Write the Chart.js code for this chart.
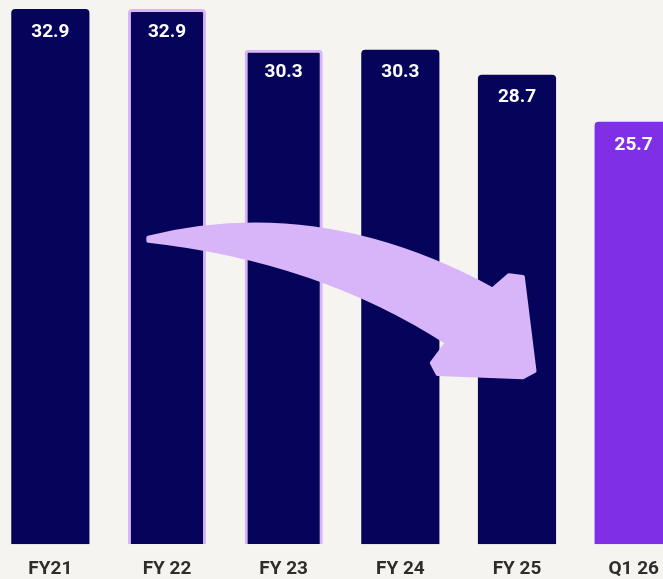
<!DOCTYPE html>
<html>
<head>
<meta charset="utf-8">
<script src="https://cdn.jsdelivr.net/npm/chart.js@4/dist/chart.umd.min.js"></script>
<style>
  html, body { margin: 0; padding: 0; background: #f5f4f0; overflow: hidden; }
  #wrap { position: absolute; left: -8px; top: 0; width: 700px; height: 595px; }
</style>
</head>
<body>
<div id="wrap"><canvas id="chart"></canvas></div>
<script>
const categories = ['FY21', 'FY 22', 'FY 23', 'FY 24', 'FY 25', 'Q1 26'];
const values = [32.9, 32.9, 30.3, 30.3, 28.7, 25.7];
const labels = ['32.9', '32.9', '30.3', '30.3', '28.7', '25.7'];

const NAVY = '#05045a';
const PURPLE = '#7f2fe6';
const LILAC = '#d8b4f8';

const barColors = [NAVY, NAVY, NAVY, NAVY, NAVY, PURPLE];
const borderColors = [NAVY, LILAC, LILAC, NAVY, NAVY, PURPLE];
const borderWidths = [0, 3, 3, 0, 0, 0];

const Y_MIN = -1.26;

// white value text near the top of each bar
const valueLabels = {
  id: 'valueLabels',
  afterDatasetsDraw(chart) {
    const ctx = chart.ctx;
    const meta = chart.getDatasetMeta(0);
    ctx.save();
    ctx.fillStyle = '#ffffff';
    ctx.font = 'bold 19px Roboto';
    ctx.textAlign = 'center';
    ctx.textBaseline = 'middle';
    meta.data.forEach((bar, i) => {
      ctx.fillText(labels[i], bar.x, bar.y + 23);
    });
    ctx.restore();
  }
};

// the big curved arrow, placed with the chart's own scales (index, value)
const trendArrow = {
  id: 'trendArrow',
  afterDatasetsDraw(chart) {
    const xs = chart.scales.x, ys = chart.scales.y;
    const p = (i, v) => [xs.getPixelForValue(i), ys.getPixelForValue(v)];
    const ctx = chart.ctx;
    const tail = p(0.84, 18.3);
    const topCp = p(2.31, 21.0);
    const headJoint = p(3.79, 15.0);
    const barb = p(3.93, 15.9);
    const barbR = p(4.05, 15.8);
    const rightC = p(4.15, 9.8);
    const botR = p(4.05, 9.4);
    const botL = p(3.32, 9.6);
    const leftC = p(3.27, 10.3);
    const notch = p(3.4, 11.6);
    const botCp = p(2.3, 16.9);
    const tailLow = p(0.84, 18.1);

    ctx.save();
    ctx.fillStyle = LILAC;
    ctx.strokeStyle = LILAC;
    ctx.lineJoin = 'round';
    ctx.beginPath();
    ctx.moveTo(...tail);
    ctx.quadraticCurveTo(...topCp, ...headJoint);
    ctx.lineTo(...barb);
    ctx.lineTo(...barbR);
    ctx.lineTo(...rightC);
    ctx.lineTo(...botR);
    ctx.lineTo(...botL);
    ctx.lineTo(...leftC);
    ctx.lineTo(...notch);
    ctx.quadraticCurveTo(...botCp, ...tailLow);
    ctx.closePath();
    ctx.fill();
    ctx.lineWidth = 4;
    ctx.stroke();
    ctx.restore();
  }
};

new Chart(document.getElementById('chart'), {
  type: 'bar',
  data: {
    labels: categories,
    datasets: [{
      data: values,
      base: Y_MIN,
      backgroundColor: barColors,
      borderColor: borderColors,
      borderWidth: borderWidths,
      borderRadius: 4,
      borderSkipped: 'start',
      barPercentage: 0.67,
      categoryPercentage: 1
    }]
  },
  options: {
    responsive: true,
    maintainAspectRatio: false,
    animation: false,
    layout: { padding: 0 },
    plugins: {
      legend: { display: false },
      tooltip: { enabled: false }
    },
    scales: {
      x: {
        grid: { display: false, drawTicks: false },
        border: { display: false },
        ticks: {
          color: '#2e2d2b',
          font: { family: 'Roboto', size: 19, weight: 'bold' },
          padding: 14
        }
      },
      y: {
        display: false,
        min: Y_MIN,
        max: 33.47
      }
    }
  },
  plugins: [valueLabels, trendArrow]
});
</script>
</body>
</html>
